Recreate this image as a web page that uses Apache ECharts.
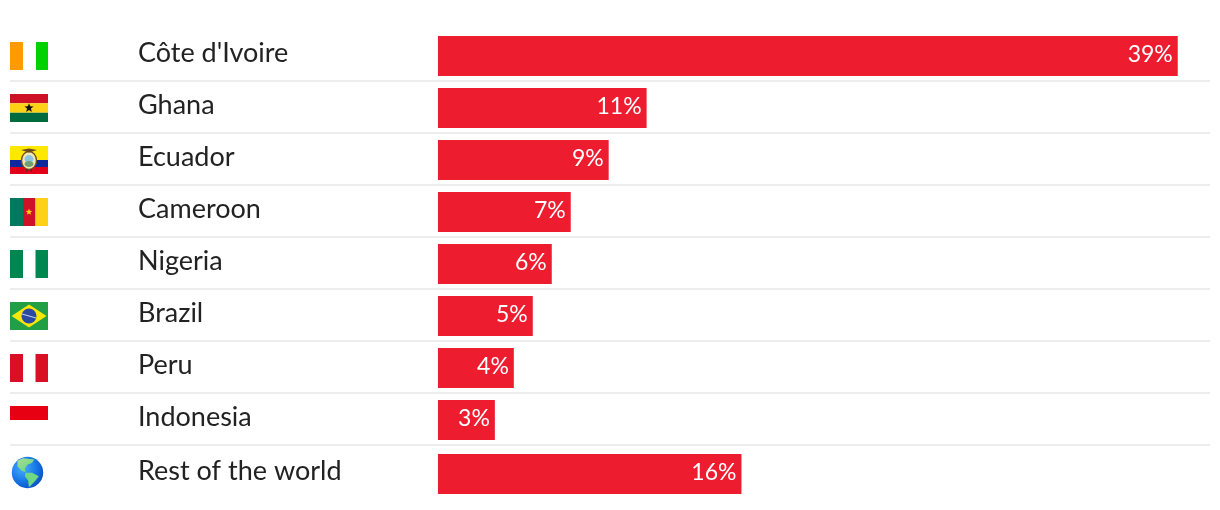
<!DOCTYPE html>
<html><head><meta charset="utf-8">
<style>html,body{margin:0;padding:0;background:#fff}#c{width:1220px;height:510px}</style>
<script src="https://cdn.jsdelivr.net/npm/echarts@6/dist/echarts.min.js"></script>
</head><body><div id="c"></div>
<script>
const categories = ["Côte d'Ivoire","Ghana","Ecuador","Cameroon","Nigeria","Brazil","Peru","Indonesia"];
const values = [39,11,9,7,6,5,4,3];
const restCategories = ["Rest of the world"];
const restValues = [16];
const flagKinds = ["ci","gh","ec","cm","ng","br","pe","id"];
const restFlagKinds = ["globe"];

const RED = '#ED1C2E', FONT = 'Lato, "Noto Sans", sans-serif';

function rect(x,y,w,h,fill){return {type:'rect',shape:{x,y,width:w,height:h},style:{fill}};}
function star(cx,cy,r,fill){
  const pts=[];
  for(let i=0;i<10;i++){const a=-Math.PI/2+i*Math.PI/5,q=i%2?r*0.42:r;pts.push([cx+q*Math.cos(a),cy+q*Math.sin(a)]);}
  return {type:'polygon',shape:{points:pts},style:{fill}};
}
function poly(points,fill){return {type:'polygon',shape:{points},style:{fill}};}
function flag(kind,x,c){
  const t=c-14, W=38, H=28;
  switch(kind){
    case 'ci': return [rect(x,t,13,H,'#FF9B00'),rect(x+26,t,12,H,'#00D100')];
    case 'gh': return [rect(x,t,W,9.3,'#CE1126'),rect(x,t+9.3,W,9.4,'#FCD116'),rect(x,t+18.7,W,9.3,'#006B3F'),star(x+19,t+14,4.8,'#111')];
    case 'ec': return [rect(x,t,W,14,'#FFE800'),rect(x,t+14,W,7,'#0B2A9C'),rect(x,t+21,W,7,'#E2001A'),
      {type:'ellipse',shape:{cx:x+19,cy:t+14.5,rx:7.5,ry:9},style:{fill:'#F3E7B0',stroke:'#6B4A1E',lineWidth:1.4}},
      {type:'ellipse',shape:{cx:x+19,cy:t+13,rx:4.5,ry:4},style:{fill:'#8FC4E0'}},
      {type:'ellipse',shape:{cx:x+19,cy:t+18,rx:4.5,ry:3},style:{fill:'#6FA070'}},
      poly([[x+11,t+4],[x+19,t+2.5],[x+27,t+4],[x+19,t+6.5]],'#6B4A1E'),
      rect(x+16,t+23.5,1.5,2,'#333'),rect(x+20.5,t+23.5,1.5,2,'#333')];
    case 'cm': return [rect(x,t,13,H,'#007A5E'),rect(x+13,t,12.5,H,'#CE1126'),rect(x+25.5,t,12.5,H,'#FCD116'),star(x+19,t+14,3.4,'#FCD116')];
    case 'ng': return [rect(x,t,13,H,'#008751'),rect(x+25.5,t,12.5,H,'#008751')];
    case 'br': return [rect(x,t,W,H,'#229E45'),poly([[x+19,t+2.5],[x+36.5,t+14],[x+19,t+25.5],[x+1.5,t+14]],'#F8E509'),
      {type:'circle',shape:{cx:x+19,cy:t+14,r:7.5},style:{fill:'#2B49A3'}},
      {type:'line',shape:{x1:x+12,y1:t+12,x2:x+26,y2:t+16},style:{stroke:'#D8E4F0',lineWidth:0.9}}];
    case 'pe': return [rect(x,t,13,H,'#D91023'),rect(x+25.5,t,12.5,H,'#D91023')];
    case 'id': return [rect(x,t,W,14,'#E70011')];
    case 'globe': { const gx=x+17.5, gy=c-1.5, f=1/3;
      const s=a=>a.map(p=>[gx+p[0]*f,gy+p[1]*f]);
      const land=new echarts.graphic.LinearGradient(0,0,0.5,1,[{offset:0,color:'#A8DC98'},{offset:1,color:'#6FD880'}]);
      return [{type:'circle',shape:{cx:gx,cy:gy,r:15.7},style:{fill:new echarts.graphic.RadialGradient(0.35,0.35,0.72,[{offset:0,color:'#4AB0F8'},{offset:0.6,color:'#1677E6'},{offset:1,color:'#0A4FC4'}])}},
        poly(s([[-30,-36],[-13,-43],[20,-39],[14,-29],[0,-23],[-8,-13],[-6,-1],[-18,-6],[-30,-19]]),land),
        poly(s([[-6,1],[14,1],[34,11],[24,24],[10,39],[4,44],[2,24],[-8,11]]),'#6FD880')];
    }
  }
  return [];
}
function rowRenderer(kinds,separators){
  return function(params,api){
    const i=api.value(1), c=api.coord([0,i])[1], band=api.size([0,1])[1];
    const x=params.coordSys.x, w=params.coordSys.width;
    const kids=flag(kinds[i],x,c);
    if(separators) kids.push(rect(x,c+band/2-2,w,2,'#EDEDED'));
    return {type:'group',children:kids,silent:true};
  };
}
const xBase={type:'value',min:-22.56,max:40.7,show:false};
function yAxis(gi,cats){return {type:'category',gridIndex:gi,inverse:true,data:cats,
  axisLine:{show:false},axisTick:{show:false},splitLine:{show:false},
  axisLabel:{inside:true,margin:128,align:'left',verticalAlign:'bottom',lineHeight:6,color:'#222',fontFamily:FONT,fontSize:27}};}
function bar(gi,vals){return {type:'bar',xAxisIndex:gi,yAxisIndex:gi,data:vals,barWidth:40,z:3,silent:true,
  itemStyle:{color:RED},
  label:{show:true,position:'insideRight',distance:5,offset:[0,-1],formatter:'{c}%',color:'#fff',fontFamily:FONT,fontSize:23}};}
function rows(gi,kinds,sep){return {type:'custom',xAxisIndex:gi,yAxisIndex:gi,silent:true,z:2,clip:false,
  renderItem:rowRenderer(kinds,sep),encode:{x:0,y:1},data:kinds.map((k,i)=>[0,i])};}

const chart=echarts.init(document.getElementById('c'),null,{renderer:'canvas'});
chart.setOption({
  animation:false,backgroundColor:'#fff',
  grid:[{left:10,top:30,width:1200,height:416},{left:10,top:448,width:1200,height:52}],
  xAxis:[Object.assign({gridIndex:0},xBase),Object.assign({gridIndex:1},xBase)],
  yAxis:[yAxis(0,categories),yAxis(1,restCategories)],
  series:[rows(0,flagKinds,true),rows(1,restFlagKinds,false),bar(0,values),bar(1,restValues)]
});
</script></body></html>
